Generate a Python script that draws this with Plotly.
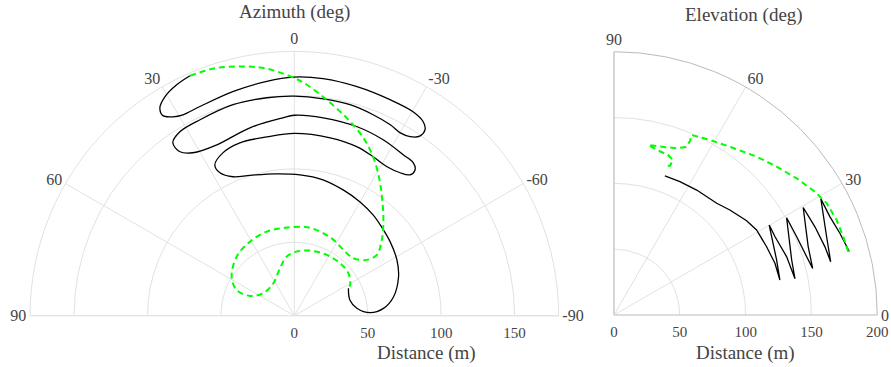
import plotly.graph_objects as go

# ---------------- Azimuth plot data (distance m, azimuth deg) ----------------
az_black_r = [178.2, 176.5, 173.2, 168.6, 163.0, 158.7, 156.4, 156.3, 158.3, 160.7,
              162.5, 162.6, 161.7, 160.9, 160.7, 158.6, 154.8, 149.5, 145.2, 143.9,
              145.5, 147.0, 148.6, 149.0, 149.5, 149.6, 149.6, 148.1, 147.5, 143.9,
              136.1, 130.7, 127.8, 131.5, 135.0, 136.5, 136.2, 135.6, 134.2, 132.3,
              131.9, 129.0, 124.2, 121.1, 119.5, 120.8, 122.7, 123.6, 124.2, 123.2,
              123.4, 121.1, 116.1, 109.7, 103.4, 100.2, 97.5, 96.0, 94.6, 91.9,
              89.5, 87.1, 84.6, 82.4, 79.5, 75.7, 68.7, 60.9, 51.7, 42.9,
              39.3, 41.3]
az_black_theta = [23.5, 27.0, 30.6, 32.9, 33.3, 31.4, 29.0, 24.3, 15.2, 6.7,
                  0.2, -6.9, -15.3, -23.9, -30.2, -33.6, -35.1, -35.0, -32.9, -30.1,
                  -26.7, -21.4, -14.8, -7.6, 0.0, 7.2, 16.2, 25.7, 31.9, 35.1,
                  34.9, 31.9, 24.4, 13.3, 3.3, 0.0, -8.3, -18.4, -26.8, -34.1,
                  -37.9, -39.6, -39.4, -36.5, -31.9, -26.4, -20.4, -11.4, 0.0, 8.7,
                  17.5, 23.7, 27.8, 27.5, 23.8, 17.5, 7.8, -2.3, -11.9, -21.2,
                  -30.0, -38.0, -45.0, -52.4, -61.5, -69.6, -79.3, -85.3, -87.7, -83.2,
                  -74.2, -63.1]

az_green_r = [178.2, 176.8, 173.3, 169.3, 162.1, 157.5, 148.7, 139.2, 129.8, 120.1,
              110.2, 100.5, 89.1, 78.8, 69.8, 62.3, 56.1, 55.9, 58.1, 59.9,
              60.9, 60.1, 60.3, 58.8, 56.2, 50.3, 43.0, 33.1, 26.1, 26.3,
              33.8, 40.6, 43.7, 45.6, 46.9, 47.4, 46.8, 43.4, 41.3]
az_green_theta = [23.5, 17.4, 11.6, 6.4, 0.2, -3.1, -8.5, -14.9, -21.3, -26.7,
                  -31.6, -36.4, -42.9, -49.1, -53.6, -52.4, -45.8, -36.7, -27.3, -17.0,
                  -6.9, 7.2, 18.2, 30.9, 44.3, 58.1, 66.0, 66.0, 54.2, 32.9,
                  16.8, 7.3, -2.2, -13.6, -28.1, -41.1, -51.9, -61.1, -63.1]

az_tickvals = [-90, -60, -30, 0, 30, 60, 90]
az_ticktext = ["-90", "-60", "-30", "0", "30", "60", "90"]

# ---------------- Elevation plot data (distance m, elevation deg) ----------------
el_black_r = [112.5, 113.0, 113.8, 115.3, 118.8, 123.6, 126.1, 127.0, 128.4, 128.8,
              130.4, 136.3, 136.0, 138.4, 140.2, 141.3, 150.5, 151.0, 152.9, 155.0,
              156.4, 165.3, 166.7, 168.4, 169.5, 172.1, 180.2, 180.2, 182.5, 185.1]
el_black_theta = [69.9, 63.7, 56.5, 47.4, 42.2, 35.4, 30.8, 24.1, 17.8, 11.9,
                  18.7, 30.1, 25.9, 18.7, 11.3, 17.2, 29.4, 23.2, 16.8, 13.2,
                  19.4, 29.6, 23.7, 17.9, 13.8, 20.2, 29.3, 24.5, 19.9, 15.1]

el_green_r = [184.3, 184.0, 183.9, 182.5, 179.1, 173.3, 167.2, 161.9, 155.2, 151.6,
              148.9, 144.2, 138.8, 135.3, 132.9, 131.7, 129.5, 128.3, 126.0, 121.1,
              119.9]
el_green_theta = [15.1, 18.9, 23.1, 27.7, 31.5, 36.8, 42.4, 48.0, 55.4, 61.3,
                  66.7, 66.4, 66.8, 69.4, 74.2, 78.6, 75.4, 71.4, 69.2, 69.4,
                  70.8]

el_tickvals = [0, 30, 60, 90]
dist_az_ticks = [0, 50, 100, 150]
dist_el_ticks = [0, 50, 100, 150, 200]

FONT = "Liberation Serif, Times New Roman, serif"
GRID = "#e2e2e2"
TXT = "#444444"
BLACK = "#000000"
GREEN = "#00ff00"

fig = go.Figure()
fig.add_trace(go.Scatterpolar(r=az_black_r, theta=az_black_theta, mode="lines",
                              line=dict(color=BLACK, width=1.3, shape="spline", smoothing=1),
                              subplot="polar", showlegend=False))
fig.add_trace(go.Scatterpolar(r=az_green_r, theta=az_green_theta, mode="lines",
                              line=dict(color=GREEN, width=2, dash="6px,4px", shape="spline", smoothing=1),
                              subplot="polar", showlegend=False))
fig.add_trace(go.Scatterpolar(r=el_black_r, theta=el_black_theta, mode="lines",
                              line=dict(color=BLACK, width=1.3),
                              subplot="polar2", showlegend=False))
fig.add_trace(go.Scatterpolar(r=el_green_r, theta=el_green_theta, mode="lines",
                              line=dict(color=GREEN, width=2, dash="6px,4px"),
                              subplot="polar2", showlegend=False))

tickfont_r = dict(family=FONT, size=15, color=TXT)
tickfont_a = dict(family=FONT, size=16, color=TXT)
titlefont = dict(family=FONT, size=19, color=TXT)

fig.update_layout(
    width=891, height=367,
    margin=dict(l=0, r=0, t=0, b=0),
    paper_bgcolor="white",
    font=dict(family=FONT, color=TXT),
    polar=dict(
        domain=dict(x=[0.0337, 0.627], y=[0.1398, 0.86]),
        sector=[0, 180],
        bgcolor="white",
        angularaxis=dict(direction="counterclockwise", rotation=90,
                         tickmode="array", tickvals=az_tickvals, ticktext=az_ticktext,
                         showline=True, linecolor=GRID, gridcolor=GRID, ticks="",
                         tickfont=tickfont_a),
        radialaxis=dict(range=[0, 180], tickmode="array", tickvals=dist_az_ticks,
                        showline=True, linecolor=GRID, gridcolor=GRID,
                        ticks="outside", ticklen=4, tickcolor="rgba(0,0,0,0)",
                        tickfont=tickfont_r),
    ),
    polar2=dict(
        domain=dict(x=[0.6891, 0.9846], y=[0.1417, 0.8591]),
        sector=[0, 90],
        bgcolor="white",
        angularaxis=dict(direction="counterclockwise", rotation=0,
                         tickmode="array", tickvals=el_tickvals,
                         showline=True, linecolor="#bbbbbb", gridcolor=GRID, ticks="",
                         tickfont=tickfont_a),
        radialaxis=dict(range=[0, 200], tickmode="array", tickvals=dist_el_ticks,
                        showline=True, linecolor=GRID, gridcolor=GRID,
                        ticks="outside", ticklen=4, tickcolor="rgba(0,0,0,0)",
                        tickfont=tickfont_r),
    ),
    annotations=[
        dict(text="Azimuth (deg)", x=294.3 / 891, y=1 - 12 / 367, xref="paper", yref="paper",
             showarrow=False, font=titlefont, xanchor="center", yanchor="middle"),
        dict(text="Elevation (deg)", x=744 / 891, y=1 - 15 / 367, xref="paper", yref="paper",
             showarrow=False, font=titlefont, xanchor="center", yanchor="middle"),
        dict(text="Distance (m)", x=426 / 891, y=1 - 352.5 / 367, xref="paper", yref="paper",
             showarrow=False, font=titlefont, xanchor="center", yanchor="middle"),
        dict(text="Distance (m)", x=745.5 / 891, y=1 - 352.5 / 367, xref="paper", yref="paper",
             showarrow=False, font=titlefont, xanchor="center", yanchor="middle"),
    ],
)

fig.write_html("out.html")
